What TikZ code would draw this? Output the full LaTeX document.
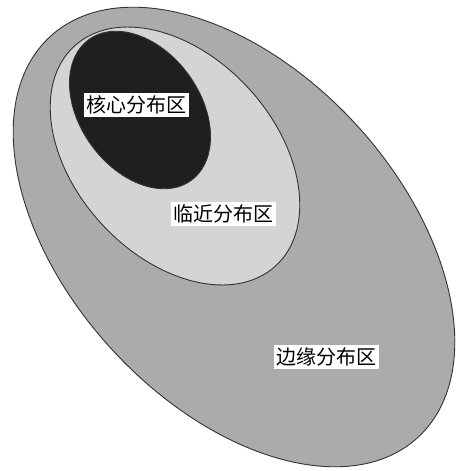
\documentclass[tikz,border=0pt]{standalone}
\usepackage{fontspec}
\newfontfamily\cjk{Noto Sans CJK SC}
\usepackage{tikz}

\begin{document}
\begin{tikzpicture}[x=1pt,y=-1pt,
  zone/.style={draw=black!80, line width=0.9pt},
  zonelabel/.style={fill=white, inner sep=2.5pt, font=\cjk\fontsize{20}{22}\selectfont}]

\useasboundingbox (0,0) rectangle (461,471);

% outer zone
\filldraw[zone, fill=black!33, rotate around={-47.5:(234,237)}]
   (234,237) ellipse [x radius=272, y radius=166];

% middle zone
\filldraw[zone, fill=black!17, rotate around={-47.5:(175,156)}]
   (175,156) ellipse [x radius=149, y radius=100];

% core zone
\filldraw[zone, fill=black!88, rotate around={-54:(140,110)}]
   (140,110) ellipse [x radius=87, y radius=60];

% labels
\node[zonelabel] (core) at (136,105) {核心分布区};
\node[zonelabel] (near) at (223,214) {临近分布区};
\node[zonelabel] (edge) at (326,357) {边缘分布区};

\end{tikzpicture}
\end{document}
